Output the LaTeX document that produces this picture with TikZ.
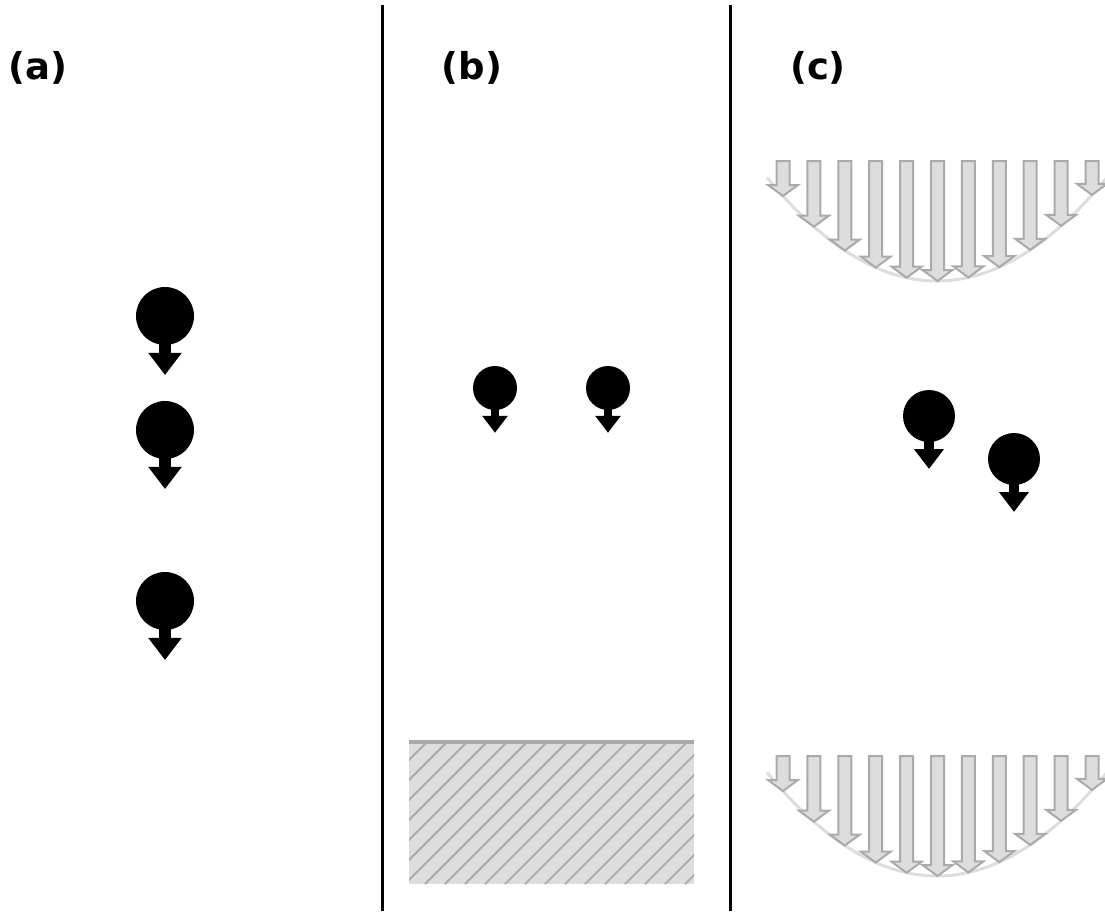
\documentclass[tikz,border=0pt]{standalone}
\usepackage{fontspec}
\setsansfont{DejaVu Sans}
\definecolor{lg}{HTML}{DDDDDD}
\definecolor{mg}{HTML}{AAAAAA}
\tikzset{
  panellabel/.style={font=\sffamily\bfseries\fontsize{37}{40}\selectfont, inner sep=0pt},
  divider/.style={line width=3pt, black},
  loadarrow/.style={fill=lg, draw=mg, line width=2pt, line join=miter},
  curveline/.style={draw=lg, line width=3pt},
  pics/ballarrow/.style={code={
    \fill[black] (0,0) circle[radius=#1];
    \fill[black] (-0.2*#1,0) rectangle (0.2*#1,1.3*#1);
    \fill[black] (-0.58*#1,1.27*#1) -- (0.58*#1,1.27*#1) -- (0,2.03*#1) -- cycle;
  }}
}
\begin{document}
\begin{tikzpicture}[x=1pt,y=-1pt]
\useasboundingbox (0,0) rectangle (1105,911);
% dividers
\coordinate (d1t) at (382,5); \coordinate (d1b) at (382,911);
\coordinate (d2t) at (730,5); \coordinate (d2b) at (730,911);
\draw[divider] (d1t) -- (d1b);
\draw[divider] (d2t) -- (d2b);
% labels
\node[panellabel] (la) at (38,68) {(a)};
\node[panellabel] (lb) at (472,68) {(b)};
\node[panellabel] (lc) at (818,68) {(c)};
% panel (a)
\pic at (165,316) {ballarrow=29};
\pic at (165,430) {ballarrow=29};
\pic at (165,601) {ballarrow=29};
% panel (b)
\pic at (495,388) {ballarrow=22};
\pic at (608,388) {ballarrow=22};
% hatched wall
\fill[lg] (409,742) rectangle (694,884);
\begin{scope}
  \clip (409,742) rectangle (694,884);
  \foreach \k in {-1,...,22} {
    \pgfmathsetmacro{\c}{1169+20*\k}
    \draw[mg, line width=1.8pt] ({\c-884},884) -- ({\c-742},742);
  }
\end{scope}
\draw[mg, line width=4pt] (409,742) -- (694,742);
% panel (c) balls
\pic at (929,416) {ballarrow=26};
\pic at (1014,459) {ballarrow=26};
% panel (c) pressure distributions
\foreach \dy in {0,595} {
  \coordinate (pl) at (767,177.4+\dy);
  \coordinate (pc1) at (880.3,315.5+\dy);
  \coordinate (pc2) at (993.7,315.5+\dy);
  \coordinate (pr) at (1107,177.4+\dy);
  \draw[curveline] (pl) .. controls (pc1) and (pc2) .. (pr);
  \foreach \i in {0,...,10} {
    \pgfmathsetmacro{\xx}{783+30.9*\i}
    \pgfmathsetmacro{\tip}{281-35.84*((\xx-937)/100)^2+\dy}
    \pgfmathsetmacro{\top}{161+\dy}
    \draw[loadarrow] (\xx-6.5,\top) -- (\xx+6.5,\top) -- (\xx+6.5,\tip-11) -- (\xx+15,\tip-11) -- (\xx,\tip) -- (\xx-15,\tip-11) -- (\xx-6.5,\tip-11) -- cycle;
  }
}
\end{tikzpicture}
\end{document}
